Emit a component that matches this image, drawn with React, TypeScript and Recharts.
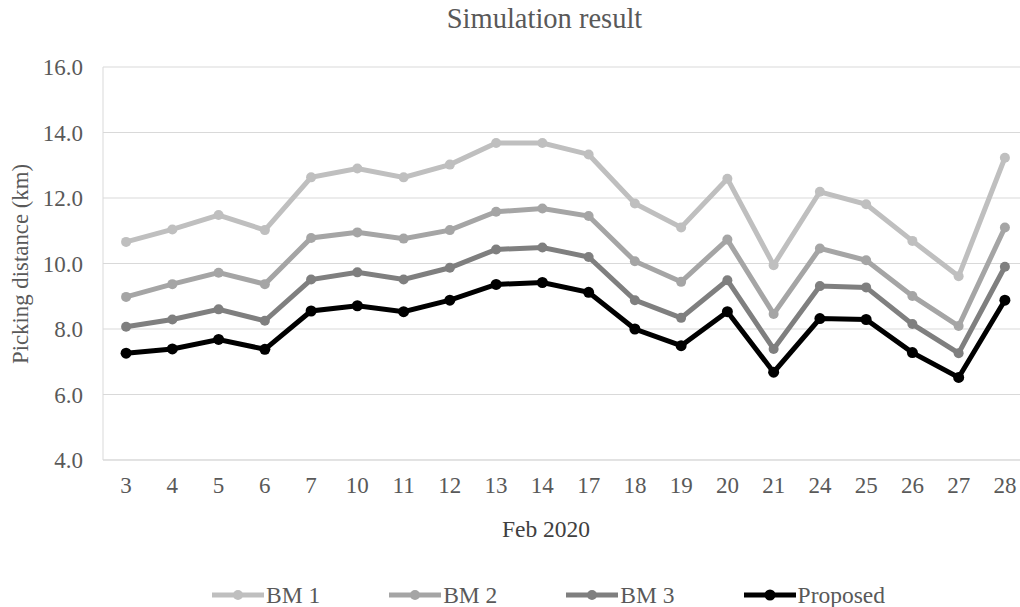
import React from 'react';
import { LineChart, Line, XAxis, YAxis, CartesianGrid } from 'recharts';

const days = ['3', '4', '5', '6', '7', '10', '11', '12', '13', '14', '17', '18', '19', '20', '21', '24', '25', '26', '27', '28'];
const bm1 = [10.66, 11.04, 11.48, 11.02, 12.63, 12.9, 12.63, 13.02, 13.68, 13.68, 13.33, 11.83, 11.1, 12.59, 9.95, 12.19, 11.81, 10.69, 9.61, 13.23];
const bm2 = [8.98, 9.37, 9.72, 9.37, 10.78, 10.95, 10.76, 11.02, 11.58, 11.68, 11.45, 10.07, 9.44, 10.73, 8.46, 10.46, 10.1, 9.01, 8.09, 11.1];
const bm3 = [8.07, 8.29, 8.6, 8.25, 9.51, 9.73, 9.51, 9.87, 10.43, 10.49, 10.2, 8.88, 8.34, 9.49, 7.39, 9.31, 9.27, 8.15, 7.26, 9.9];
const proposed = [7.26, 7.39, 7.68, 7.38, 8.55, 8.71, 8.53, 8.88, 9.36, 9.42, 9.12, 8.0, 7.49, 8.53, 6.68, 8.32, 8.29, 7.28, 6.52, 8.88];
const yTicks = [4, 6, 8, 10, 12, 14, 16];

const seriesNames = ['BM 1', 'BM 2', 'BM 3', 'Proposed'];
const seriesKeys = ['bm1', 'bm2', 'bm3', 'proposed'];
const seriesColors = ['#BFBFBF', '#A5A5A5', '#7F7F7F', '#000000'];

const data = days.map((d, i) => ({
  day: d,
  bm1: bm1[i],
  bm2: bm2[i],
  bm3: bm3[i],
  proposed: proposed[i],
}));

const FONT = '"Liberation Serif", "Times New Roman", serif';
const TEXT = '#595959';

export default function App() {
  return (
    <div
      style={{
        position: 'absolute',
        left: 0,
        top: 0,
        width: 1020,
        height: 607,
        overflow: 'hidden',
        background: '#ffffff',
        fontFamily: FONT,
      }}
    >
      <style>{`html, body { margin: 0; padding: 0; overflow: hidden; }`}</style>
      <svg width={1020} height={40} style={{ position: 'absolute', left: 0, top: 0 }}>
        <text x={544.5} y={28.3} textAnchor="middle" fontFamily={FONT} fontSize={28.5} fill={TEXT}>
          Simulation result
        </text>
      </svg>
      <div style={{ position: 'absolute', left: 0, top: 0 }}>
        <LineChart width={1020} height={607} data={data} margin={{ top: 67, right: -8, bottom: 0, left: 0 }}>
          <CartesianGrid vertical={false} stroke="#D9D9D9" strokeWidth={1} />
          <XAxis
            dataKey="day"
            height={147}
            padding={{ left: 23.1, right: 23.1 }}
            tickLine={false}
            axisLine={{ stroke: '#D9D9D9' }}
            tickMargin={11}
            interval={0}
            tick={{ fontFamily: FONT, fontSize: 23, fill: TEXT }}
            label={{
              content: () => (
                <text x={546} y={536.7} textAnchor="middle" fontFamily={FONT} fontSize={23.5} fill="#404040">
                  Feb 2020
                </text>
              ),
            }}
          />
          <YAxis
            width={103}
            domain={[4, 16]}
            ticks={yTicks}
            tickFormatter={(v: number) => v.toFixed(1)}
            tickLine={false}
            axisLine={{ stroke: '#D9D9D9' }}
            tickMargin={14}
            tick={{ fontFamily: FONT, fontSize: 23, fill: TEXT }}
            label={{
              content: () => (
                <text
                  x={28}
                  y={264}
                  transform="rotate(-90, 28, 264)"
                  textAnchor="middle"
                  fontFamily={FONT}
                  fontSize={22.8}
                  fill={TEXT}
                >
                  Picking distance (km)
                </text>
              ),
            }}
          />
          {seriesKeys.map((k, i) => (
            <Line
              key={k}
              dataKey={k}
              name={seriesNames[i]}
              type="linear"
              stroke={seriesColors[i]}
              strokeWidth={5}
              dot={{ r: i === 3 ? 5.5 : 5, fill: seriesColors[i], stroke: 'none' }}
              activeDot={false}
              isAnimationActive={false}
            />
          ))}
        </LineChart>
      </div>
      <div
        style={{
          position: 'absolute',
          left: 0,
          top: 583,
          width: 1020,
          height: 24,
          boxSizing: 'border-box',
          paddingLeft: 77,
          display: 'flex',
          justifyContent: 'center',
          alignItems: 'center',
          gap: 69,
        }}
      >
        {seriesNames.map((n, i) => (
          <div key={n} style={{ display: 'flex', alignItems: 'center' }}>
            <svg width={52} height={14} style={{ display: 'block', marginRight: 2 }}>
              <line x1={0} y1={7} x2={52} y2={7} stroke={seriesColors[i]} strokeWidth={5} strokeLinecap="round" />
              <circle cx={26} cy={7} r={i === 3 ? 5.5 : 5} fill={seriesColors[i]} />
            </svg>
            <span style={{ fontFamily: FONT, fontSize: 23.5, color: TEXT, lineHeight: '24px' }}>{n}</span>
          </div>
        ))}
      </div>
    </div>
  );
}
